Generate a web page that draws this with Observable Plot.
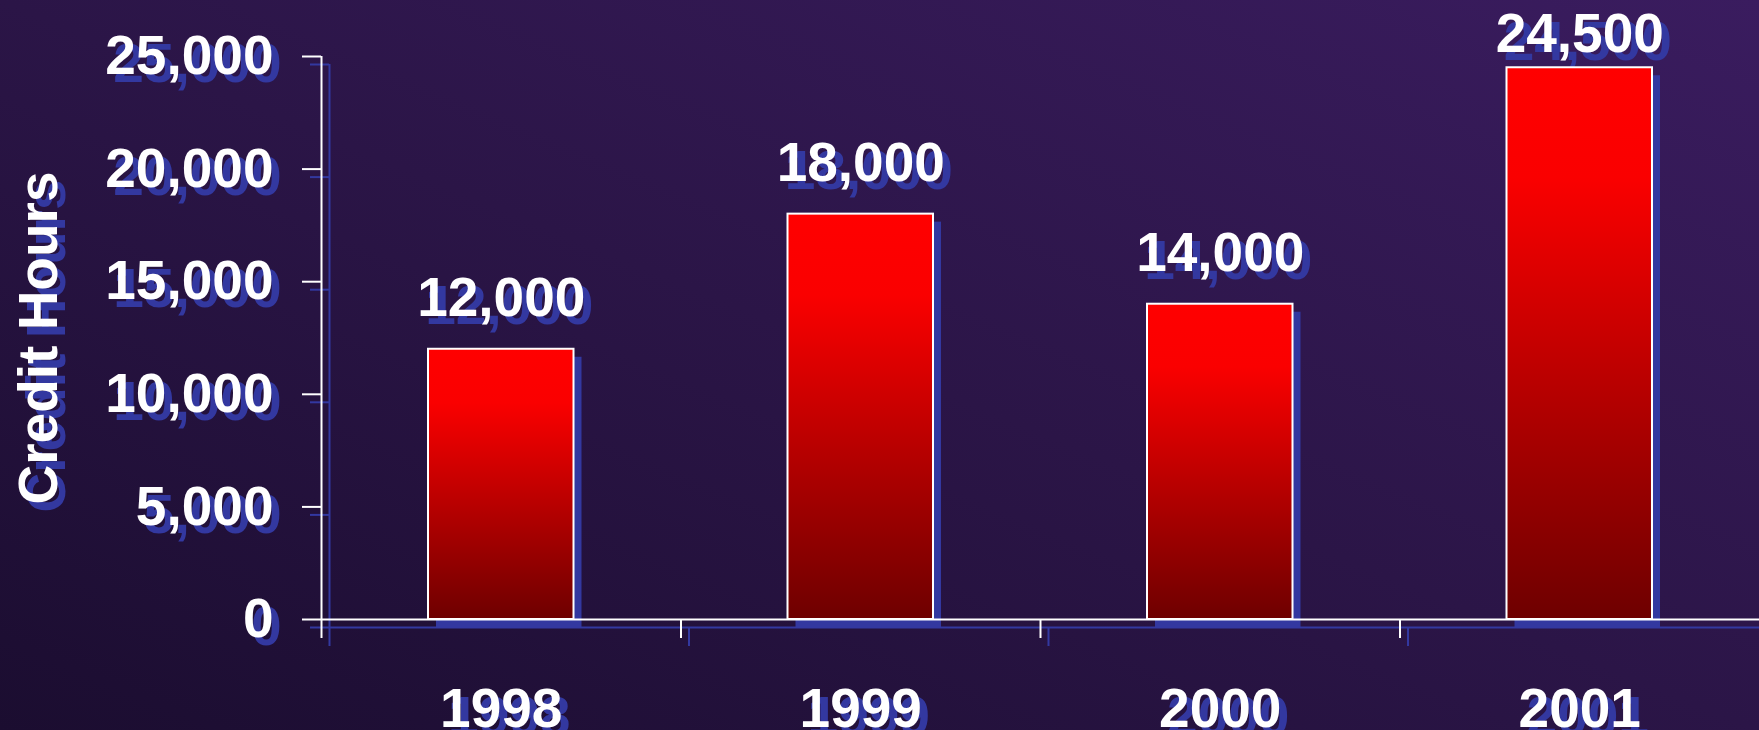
<!DOCTYPE html>
<html>
<head>
<meta charset="utf-8">
<script src="https://cdn.jsdelivr.net/npm/d3@7"></script>
<script src="https://cdn.jsdelivr.net/npm/@observablehq/plot@0.6"></script>
<style>
  html, body { margin: 0; padding: 0; background: #2a1445; overflow: hidden; }
  #chart svg { display: block; }
</style>
</head>
<body>
<div id="chart"></div>
<script>
// ---- data ----
const years = ["1998", "1999", "2000", "2001"];
const creditHours = [12000, 18000, 14000, 24500];
const yTicks = [0, 5000, 10000, 15000, 20000, 25000];
const yLabel = "Credit Hours";

const data = years.map((year, i) => ({ year, i, value: creditHours[i] }));
const fmt = d3.format(",");

const SHADOW = "#3338a0";
const WHITE = "#ffffff";
const FONT = "'Liberation Sans', Arial, sans-serif";
const FS = 55;
const OFF = 8;

const gradientDefs = () => {
  const ns = "http://www.w3.org/2000/svg";
  const defs = document.createElementNS(ns, "defs");
  defs.innerHTML =
    `<linearGradient id="barGrad" x1="0" y1="0" x2="0" y2="1">
       <stop offset="0" stop-color="#ff0000"/>
       <stop offset="0.2" stop-color="#fa0000"/>
       <stop offset="1" stop-color="#6e0000"/>
     </linearGradient>`;
  return defs;
};

function layer(color, isShadow) {
  const o = isShadow ? OFF : 0;
  const d = isShadow ? { dx: OFF, dy: OFF } : {};
  const marks = [];
  // y axis line
  marks.push(Plot.ruleX([0], { y1: 0, y2: 25000, stroke: color, strokeWidth: 2, ...d }));
  // x axis line
  marks.push(Plot.ruleY([0], { stroke: color, strokeWidth: 2, ...d }));
  // y ticks + labels
  marks.push(Plot.axisY(yTicks, {
    anchor: "left",
    tickSize: 19,
    tickPadding: 29,
    tickFormat: fmt,
    color: color,
    strokeWidth: 2,
    fontSize: FS,
    fontWeight: "bold",
    label: null,
    ...d
  }));
  // y axis title
  marks.push(Plot.text([yLabel], {
    frameAnchor: "left",
    rotate: -90,
    lineAnchor: "top",
    textAnchor: "middle",
    fill: color,
    fontSize: FS,
    fontWeight: "bold",
    dx: -304 + o,
    dy: o
  }));
  // category boundary ticks
  marks.push(Plot.axisX(data.map(r => r.i), {
    anchor: "bottom",
    tickSize: 19,
    tickFormat: () => "",
    color: color,
    strokeWidth: 2,
    label: null,
    ...d
  }));
  // year labels
  marks.push(Plot.axisX(data.map(r => r.i + 0.5), {
    anchor: "bottom",
    tickSize: 0,
    tickPadding: 68,
    tickFormat: v => years[Math.floor(v)],
    color: color,
    fontSize: FS,
    fontWeight: "bold",
    label: null,
    ...d
  }));
  // bars
  if (isShadow) {
    marks.push(Plot.rectY(data, { x1: "i", x2: r => r.i + 1, y: "value", insetLeft: 107, insetRight: 107, fill: color, ...d }));
  } else {
    marks.push(Plot.rectY(data, { x1: "i", x2: r => r.i + 1, y: "value", insetLeft: 107, insetRight: 107, fill: "url(#barGrad)", stroke: WHITE, strokeWidth: 2 }));
  }
  // value labels
  marks.push(Plot.text(data, {
    filter: r => r.value <= 20000,
    x: r => r.i + 0.5, y: "value", text: r => fmt(r.value),
    lineAnchor: "bottom", fill: color, fontSize: FS, fontWeight: "bold",
    dx: o, dy: -33 + o
  }));
  marks.push(Plot.text(data, {
    filter: r => r.value > 20000,
    x: r => r.i + 0.5, y: "value", text: r => fmt(r.value),
    lineAnchor: "bottom", fill: color, fontSize: FS, fontWeight: "bold",
    dx: o, dy: -16 + o
  }));
  return marks;
}

const chart = Plot.plot({
  width: 1759,
  height: 730,
  marginLeft: 321,
  marginRight: 0,
  marginTop: 56,
  marginBottom: 111,
  x: { type: "linear", domain: [0, years.length], axis: null },
  y: { domain: [0, 25000], axis: null },
  style: {
    background: "linear-gradient(to top right, #1b0d30 0%, #2b1547 50%, #3a1c5f 100%)",
    fontFamily: FONT,
    fontWeight: "bold",
    fontSize: FS + "px",
    color: WHITE,
    overflow: "visible"
  },
  marks: [
    gradientDefs,
    ...layer(SHADOW, true),
    ...layer(WHITE, false)
  ]
});

document.getElementById("chart").appendChild(chart);
</script>
</body>
</html>
